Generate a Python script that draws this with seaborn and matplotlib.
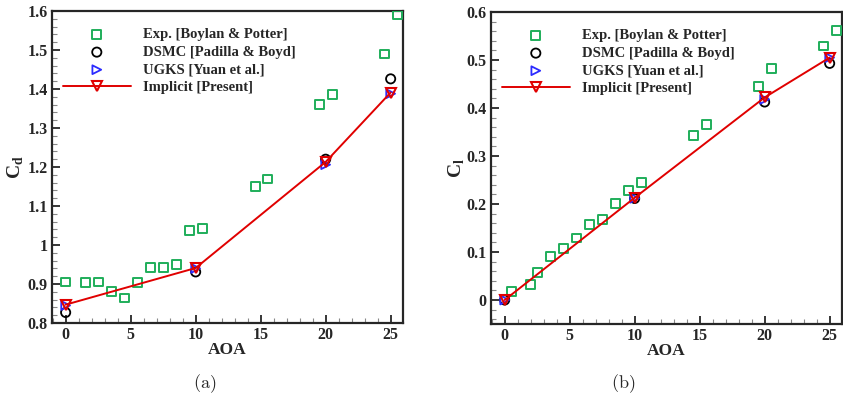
import matplotlib
matplotlib.use("Agg")
import matplotlib.pyplot as plt
import seaborn as sns
import numpy as np
from matplotlib.ticker import MultipleLocator, FuncFormatter

# ---------------- data ----------------
exp_aoa_cd = [0, 1.5, 2.5, 3.5, 4.5, 5.5, 6.5, 7.5, 8.5, 9.5, 10.5, 14.6, 15.5, 19.5, 20.5, 24.5, 25.5]
exp_cd = [0.905, 0.903, 0.905, 0.881, 0.864, 0.903, 0.942, 0.942, 0.950, 1.037, 1.042, 1.151, 1.169, 1.360, 1.385, 1.490, 1.590]

exp_aoa_cl = [0.5, 2.0, 2.5, 3.5, 4.5, 5.5, 6.5, 7.5, 8.5, 9.5, 10.5, 14.5, 15.5, 19.5, 20.5, 24.5, 25.5]
exp_cl = [0.017, 0.033, 0.058, 0.090, 0.108, 0.129, 0.157, 0.168, 0.201, 0.228, 0.245, 0.343, 0.365, 0.445, 0.482, 0.529, 0.562]

sim_aoa = [0, 10, 20, 25]
dsmc_cd = [0.827, 0.931, 1.220, 1.426]
ugks_cd = [0.845, 0.940, 1.206, 1.388]
impl_cd = [0.847, 0.941, 1.213, 1.391]

dsmc_cl = [0.0, 0.2115, 0.4125, 0.493]
ugks_cl = [0.0, 0.212, 0.418, 0.505]
impl_cl = [0.0, 0.213, 0.422, 0.505]

labels = ["Exp. [Boylan & Potter]", "DSMC [Padilla & Boyd]", "UGKS [Yuan et al.]", "Implicit [Present]"]

# ---------------- style ----------------
sns.set_style("ticks")
plt.rcParams["font.family"] = ["Liberation Serif", "DejaVu Serif"]
plt.rcParams["font.weight"] = "bold"
plt.rcParams["mathtext.fontset"] = "cm"
plt.rcParams["axes.linewidth"] = 1.6

GREEN = "#1fae5a"
BLUE = "#2b2bff"
RED = "#e00000"

W, H = 843, 407
fig = plt.figure(figsize=(W / 100, H / 100), dpi=100)
axL = fig.add_axes([52 / W, 1 - 323 / H, (403 - 52) / W, (323 - 11) / H])
axR = fig.add_axes([491 / W, 1 - 324 / H, (842 - 491) / W, (324 - 12) / H])


def draw(ax, ex, ey, dsmc, ugks, impl):
    sns.scatterplot(x=ex, y=ey, ax=ax, marker="s", s=40, facecolor="none",
                    edgecolor=GREEN, linewidth=1.4, label=labels[0], zorder=3)
    sns.scatterplot(x=sim_aoa, y=dsmc, ax=ax, marker="o", s=44, facecolor="none",
                    edgecolor="black", linewidth=1.3, label=labels[1], zorder=3)
    sns.scatterplot(x=sim_aoa, y=ugks, ax=ax, marker=">", s=40, facecolor="none",
                    edgecolor=BLUE, linewidth=1.3, label=labels[2], zorder=3)
    sns.lineplot(x=sim_aoa, y=impl, ax=ax, color=RED, linewidth=1.4, marker="v",
                 markersize=7, markerfacecolor="none", markeredgecolor=RED,
                 markeredgewidth=1.5, label=labels[3], zorder=4)


draw(axL, exp_aoa_cd, exp_cd, dsmc_cd, ugks_cd, impl_cd)
draw(axR, exp_aoa_cl, exp_cl, dsmc_cl, ugks_cl, impl_cl)

fmt = FuncFormatter(lambda v, p: f"{v:g}")
for ax in (axL, axR):
    ax.set_xlim(-1.05, 25.95)
    ax.xaxis.set_major_locator(MultipleLocator(5))
    ax.xaxis.set_minor_locator(MultipleLocator(1))
    ax.yaxis.set_minor_locator(MultipleLocator(0.02))
    ax.yaxis.set_major_formatter(fmt)
    ax.tick_params(which="both", direction="in", top=False, right=False,
                   labelsize=11.5, pad=3)
    ax.tick_params(which="major", length=6, width=1.3)
    ax.tick_params(which="minor", length=3.5, width=0.8, color="#888888")
    for lab in ax.get_xticklabels() + ax.get_yticklabels():
        lab.set_fontweight("bold")
    ax.set_xlabel("AOA", fontsize=12.5, fontweight="bold", labelpad=-1)
    leg = ax.legend(loc="upper left", bbox_to_anchor=(0.03, 0.945), frameon=False,
                    fontsize=10.5, handlelength=4.7, handletextpad=0.8,
                    borderaxespad=0, borderpad=0, labelspacing=0.3)
    for t in leg.get_texts():
        t.set_fontweight("bold")

axL.set_ylim(0.8, 1.6)
axL.yaxis.set_major_locator(MultipleLocator(0.1))
axR.set_ylim(-0.05, 0.6)
axR.yaxis.set_major_locator(MultipleLocator(0.1))

axL.set_ylabel(r"C$_{\mathregular{d}}$", fontsize=14, fontweight="bold", labelpad=1)
axR.set_ylabel(r"C$_{\mathregular{l}}$", fontsize=14, fontweight="bold", labelpad=0)

fig.text(205 / W, 1 - 384 / H, r"$\mathrm{(a)}$", ha="center", va="center", fontsize=13)
fig.text(623 / W, 1 - 384 / H, r"$\mathrm{(b)}$", ha="center", va="center", fontsize=13)

fig.savefig("out.png", dpi=100)
